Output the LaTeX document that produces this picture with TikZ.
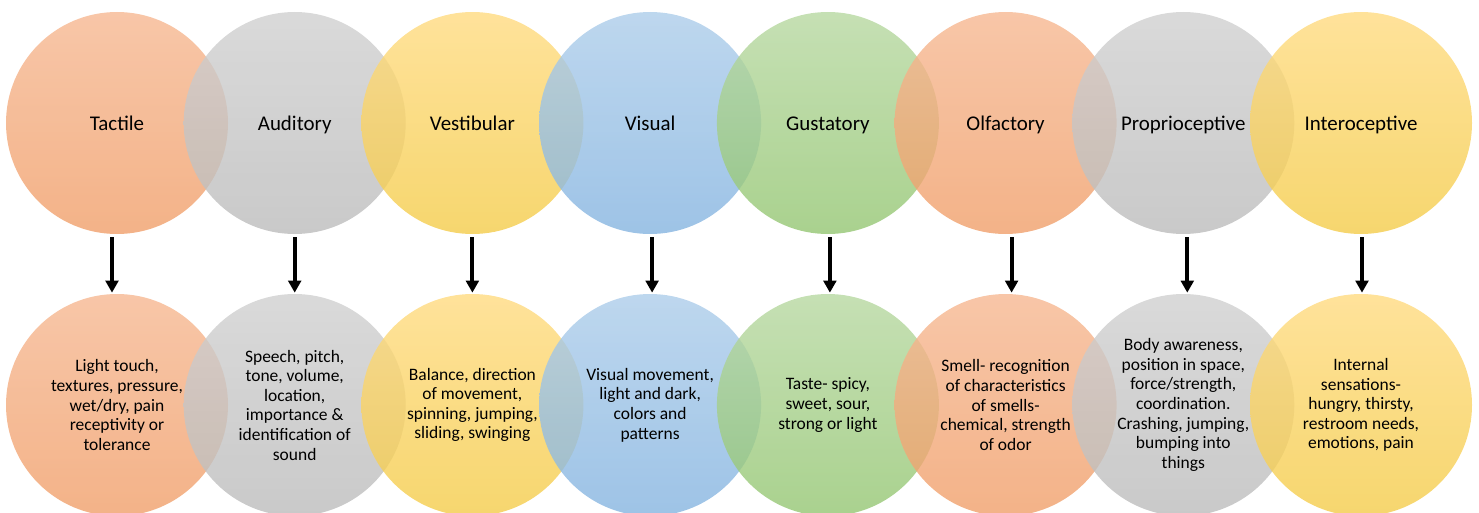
\documentclass[tikz,border=0pt]{standalone}
\usepackage{fontspec}
\setmainfont{Carlito}
\usepackage{tikz}
\usetikzlibrary{positioning,arrows.meta,shapes}

\definecolor{orTop}{RGB}{246,184,146}
\definecolor{orBot}{RGB}{240,159,106}
\definecolor{grTop}{RGB}{208,208,208}
\definecolor{grBot}{RGB}{188,188,188}
\definecolor{yeTop}{RGB}{255,219,129}
\definecolor{yeBot}{RGB}{244,204,74}
\definecolor{blTop}{RGB}{173,205,234}
\definecolor{blBot}{RGB}{133,180,224}
\definecolor{gnTop}{RGB}{183,216,161}
\definecolor{gnBot}{RGB}{148,198,114}

\begin{document}
\begin{tikzpicture}[x=0.75pt,y=0.75pt,
    disc/.style={circle,minimum size=166.5pt,inner sep=0pt,fill opacity=0.8,text opacity=1},
    sense/.style={disc,text height=2.2ex,text depth=0pt,font=\fontsize{15.7}{18}\selectfont},
    detail/.style={disc,align=center,font=\fontsize{13.1}{14.7}\selectfont},
    orng/.style={top color=orTop,bottom color=orBot},
    gry/.style={top color=grTop,bottom color=grBot},
    ylw/.style={top color=yeTop,bottom color=yeBot},
    blu/.style={top color=blTop,bottom color=blBot},
    grn/.style={top color=gnTop,bottom color=gnBot},
    arr/.style={line width=2.9pt,-{Triangle[width=9.5pt,length=9pt]},shorten <=2.2pt,shorten >=0.8pt}]
    \useasboundingbox (0,0) rectangle (1479,512);
    \clip (0,0) rectangle (1479,512);

    % senses
    \node[sense,orng] (t1) at (117,389) {Tactile};
    \node[sense,gry] (t2) at (294.7,389) {Auditory};
    \node[sense,ylw] (t3) at (472.4,389) {Vestibular};
    \node[sense,blu] (t4) at (650.1,389) {Visual};
    \node[sense,grn] (t5) at (827.9,389) {Gustatory};
    \node[sense,orng] (t6) at (1005.6,389) {Olfactory};
    \node[sense,gry] (t7) at (1183.3,389) {Proprioceptive};
    \node[sense,ylw] (t8) at (1361,389) {Interoceptive};

    % what each sense covers
    \node[detail,orng] (b1) at (117,107) {Light touch,\\textures, pressure,\\wet/dry, pain\\receptivity or\\tolerance};
    \node[detail,gry] (b2) at (294.7,107) {Speech, pitch,\\tone, volume,\\location,\\importance \&\\identification of\\sound};
    \node[detail,ylw] (b3) at (472.4,107) {Balance, direction\\of movement,\\spinning, jumping,\\sliding, swinging};
    \node[detail,blu] (b4) at (650.1,107) {Visual movement,\\light and dark,\\colors and\\patterns};
    \node[detail,grn] (b5) at (827.9,107) {Taste- spicy,\\sweet, sour,\\strong or light};
    \node[detail,orng] (b6) at (1005.6,107) {Smell- recognition\\of characteristics\\of smells-\\chemical, strength\\of odor};
    \node[detail,gry] (b7) at (1183.3,107) {Body awareness,\\position in space,\\force/strength,\\coordination.\\Crashing, jumping,\\bumping into\\things};
    \node[detail,ylw] (b8) at (1361,107) {Internal\\sensations-\\hungry, thirsty,\\restroom needs,\\emotions, pain};

    \foreach \i/\dx in {1/-5,2/0,3/0,4/2,5/2,6/6,7/4,8/1}
      \draw[arr] ([xshift=\dx*0.75pt]t\i.south) -- ([xshift=\dx*0.75pt]b\i.north);
\end{tikzpicture}
\end{document}
